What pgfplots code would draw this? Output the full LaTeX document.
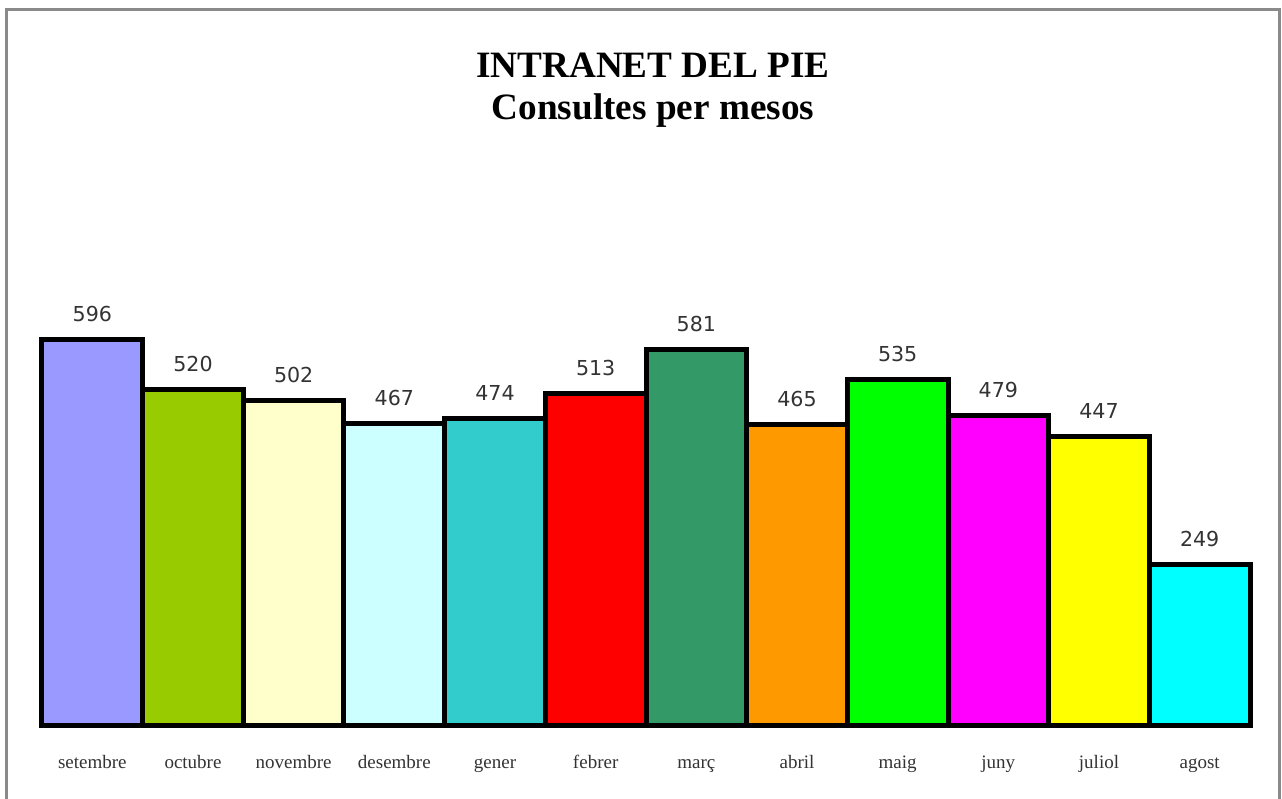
\documentclass[border=0pt]{standalone}
\usepackage{fontspec}
\setmainfont{Liberation Serif}
\newfontfamily\numfont{DejaVu Sans}
\usepackage{pgfplots}
\pgfplotsset{compat=1.18}
\definecolor{c1}{HTML}{9999FF}
\definecolor{c2}{HTML}{99CC00}
\definecolor{c3}{HTML}{FFFFCC}
\definecolor{c4}{HTML}{CCFFFF}
\definecolor{c5}{HTML}{33CCCC}
\definecolor{c6}{HTML}{FF0000}
\definecolor{c7}{HTML}{339966}
\definecolor{c8}{HTML}{FF9900}
\definecolor{c9}{HTML}{00FF00}
\definecolor{c10}{HTML}{FF00FF}
\definecolor{c11}{HTML}{FFFF00}
\definecolor{c12}{HTML}{00FFFF}
\definecolor{txtgray}{HTML}{333333}
\definecolor{framegray}{HTML}{8A8A8A}
\begin{document}
\begin{tikzpicture}
\useasboundingbox (0,0) rectangle (641pt,399.5pt);
\draw[framegray, line width=1.5pt] (3pt,-2pt) -- (3pt,394.5pt) -- (639.5pt,394.5pt) -- (639.5pt,-2pt);
\node[anchor=base, font=\bfseries\fontsize{18.6}{20}\selectfont] at (326.5pt,360.5pt) {INTRANET DEL PIE};
\node[anchor=base, font=\bfseries\fontsize{18.6}{20}\selectfont] at (326.5pt,339.5pt) {Consultes per mesos};
\begin{axis}[
  at={(21pt,37pt)}, anchor=south west,
  scale only axis, width=604pt, height=193.8pt,
  xmin=-0.5, xmax=11.5, ymin=0, ymax=600,
  ybar, bar width=1, bar shift=0pt,
  clip=false,
  axis x line*=bottom, axis y line=none,
  x axis line style={draw=none},
  major tick length=0pt,
  ytick=\empty,
  xtick={0,1,2,3,4,5,6,7,8,9,10,11},
  xticklabels={setembre,octubre,novembre,desembre,gener,febrer,març,abril,maig,juny,juliol,agost},
  xticklabel style={anchor=base, yshift=-21.5pt, font=\fontsize{9.5}{11}\selectfont, text=txtgray},
  /pgf/number format/assume math mode=true,
  nodes near coords,
  every node near coord/.append style={anchor=base, yshift=9pt, font=\numfont\fontsize{10.3}{12}\selectfont, text=txtgray},
  every axis plot/.append style={draw=black, line width=2.5pt},
]
\addplot[fill=c1] coordinates {(0,596)};
\addplot[fill=c2] coordinates {(1,520)};
\addplot[fill=c3] coordinates {(2,502)};
\addplot[fill=c4] coordinates {(3,467)};
\addplot[fill=c5] coordinates {(4,474)};
\addplot[fill=c6] coordinates {(5,513)};
\addplot[fill=c7] coordinates {(6,581)};
\addplot[fill=c8] coordinates {(7,465)};
\addplot[fill=c9] coordinates {(8,535)};
\addplot[fill=c10] coordinates {(9,479)};
\addplot[fill=c11] coordinates {(10,447)};
\addplot[fill=c12] coordinates {(11,249)};
\end{axis}
\end{tikzpicture}
\end{document}
